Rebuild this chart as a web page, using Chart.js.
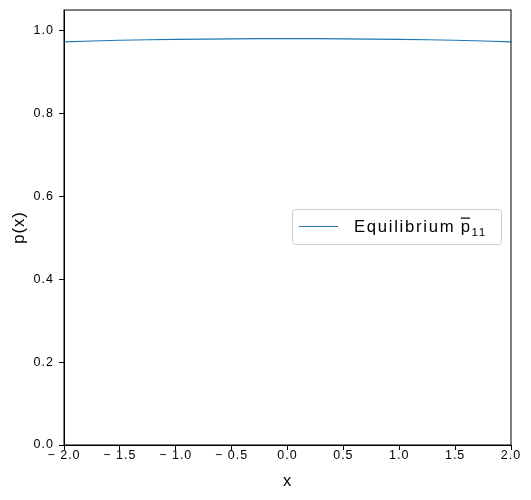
<!DOCTYPE html>
<html>
<head>
<meta charset="utf-8">
<script src="https://cdn.jsdelivr.net/npm/chart.js@4"></script>
<style>
  html, body { margin: 0; padding: 0; background: #fff; }
  canvas { display: block; }
</style>
</head>
<body>
<canvas id="chart" width="531" height="500"></canvas>
<script>
// values
const xValues = [-2.0, -1.5, -1.0, -0.5, 0.0, 0.5, 1.0, 1.5, 2.0];
const pValues = [0.973, 0.977, 0.979, 0.9805, 0.981, 0.9805, 0.979, 0.977, 0.973];
const xTicks = [-2.0, -1.5, -1.0, -0.5, 0.0, 0.5, 1.0, 1.5, 2.0];
const yTicks = [0.0, 0.2, 0.4, 0.6, 0.8, 1.0];
const seriesLabel = 'Equilibrium';

const FONT = '"Liberation Sans", Arial, sans-serif';
const LINE_COLOR = '#1f77b4';

// matplotlib text came out a bit spaced, mimic that
const spacingPlugin = {
    id: 'spacing',
    beforeDraw(chart) {
        chart.ctx.letterSpacing = '1px';
    }
};

// top + right spines, like matplotlib
const framePlugin = {
    id: 'frame',
    afterDraw(chart) {
        const { ctx, chartArea: a } = chart;
        ctx.save();
        ctx.strokeStyle = '#000';
        ctx.lineWidth = 1;
        ctx.strokeRect(a.left, a.top, a.right - a.left, a.bottom - a.top);
        ctx.restore();
    }
};

// legend box in the middle right of the axes
const legendPlugin = {
    id: 'mplLegend',
    afterDraw(chart) {
        const ctx = chart.ctx;
        const x = 292.5, y = 209.5, w = 209, h = 35, r = 3;
        ctx.save();
        ctx.fillStyle = 'rgba(255,255,255,0.8)';
        ctx.strokeStyle = '#cccccc';
        ctx.lineWidth = 1;
        ctx.beginPath();
        ctx.roundRect(x, y, w, h, r);
        ctx.fill();
        ctx.stroke();

        ctx.strokeStyle = LINE_COLOR;
        ctx.lineWidth = 1.2;
        ctx.beginPath();
        ctx.moveTo(299, 226.5);
        ctx.lineTo(338, 226.5);
        ctx.stroke();

        ctx.fillStyle = '#000';
        ctx.letterSpacing = '1.7px';
        ctx.font = '16.7px ' + FONT;
        ctx.textBaseline = 'alphabetic';
        const tx = 354, ty = 232;
        ctx.fillText(seriesLabel, tx, ty);
        const px = tx + ctx.measureText(seriesLabel).width + 5.5;
        ctx.fillText('p', px, ty);
        const pw = ctx.measureText('p').width - 1.7;
        ctx.fillRect(px, 217.5, pw, 1.2);
        ctx.font = '11.7px ' + FONT;
        ctx.fillText('11', px + pw + 1.5, ty + 3.5);
        ctx.restore();
    }
};

const fmtTick = v => {
    const s = Math.abs(v).toFixed(1);
    return v < 0 ? '\u2212 ' + s : s;
};

new Chart(document.getElementById('chart').getContext('2d'), {
    type: 'scatter',
    data: {
        datasets: [{
            label: seriesLabel,
            data: xValues.map((x, i) => ({ x: x, y: pValues[i] })),
            showLine: true,
            borderColor: LINE_COLOR,
            borderWidth: 1.2,
            pointRadius: 0,
            tension: 0.4,
            fill: false
        }]
    },
    options: {
        responsive: false,
        animation: false,
        layout: { padding: { left: 0, top: 10, right: 20, bottom: 0 } },
        plugins: {
            legend: { display: false },
            tooltip: { enabled: false }
        },
        scales: {
            x: {
                type: 'linear',
                min: -2,
                max: 2,
                afterBuildTicks: axis => { axis.ticks = xTicks.map(v => ({ value: v })); },
                afterFit: scale => {
                    scale.height = 55;
                    scale.paddingLeft = 0;
                    scale.paddingRight = 0;
                },
                grid: { drawOnChartArea: false, drawTicks: true, tickLength: 5, tickColor: '#000' },
                border: { display: true, color: '#000', width: 1 },
                ticks: {
                    color: '#000',
                    font: { family: FONT, size: 12.5 },
                    padding: -2,
                    maxRotation: 0,
                    callback: v => fmtTick(v)
                },
                title: {
                    display: true,
                    text: 'x',
                    color: '#000',
                    font: { family: FONT, size: 16.5 },
                    padding: { top: 4, bottom: 9 }
                }
            },
            y: {
                min: 0,
                max: 1.05,
                afterBuildTicks: axis => { axis.ticks = yTicks.map(v => ({ value: v })); },
                afterFit: scale => {
                    scale.width = 64;
                    scale.paddingTop = 0;
                    scale.paddingBottom = 0;
                },
                grid: { drawOnChartArea: false, drawTicks: true, tickLength: 5, tickColor: '#000' },
                border: { display: true, color: '#000', width: 1 },
                ticks: {
                    color: '#000',
                    font: { family: FONT, size: 12.5 },
                    padding: 5,
                    callback: v => fmtTick(v)
                },
                title: {
                    display: true,
                    text: 'p(x)',
                    color: '#000',
                    font: { family: FONT, size: 16.5 },
                    padding: { top: 10, bottom: 4 }
                }
            }
        }
    },
    plugins: [spacingPlugin, framePlugin, legendPlugin]
});
</script>
</body>
</html>
